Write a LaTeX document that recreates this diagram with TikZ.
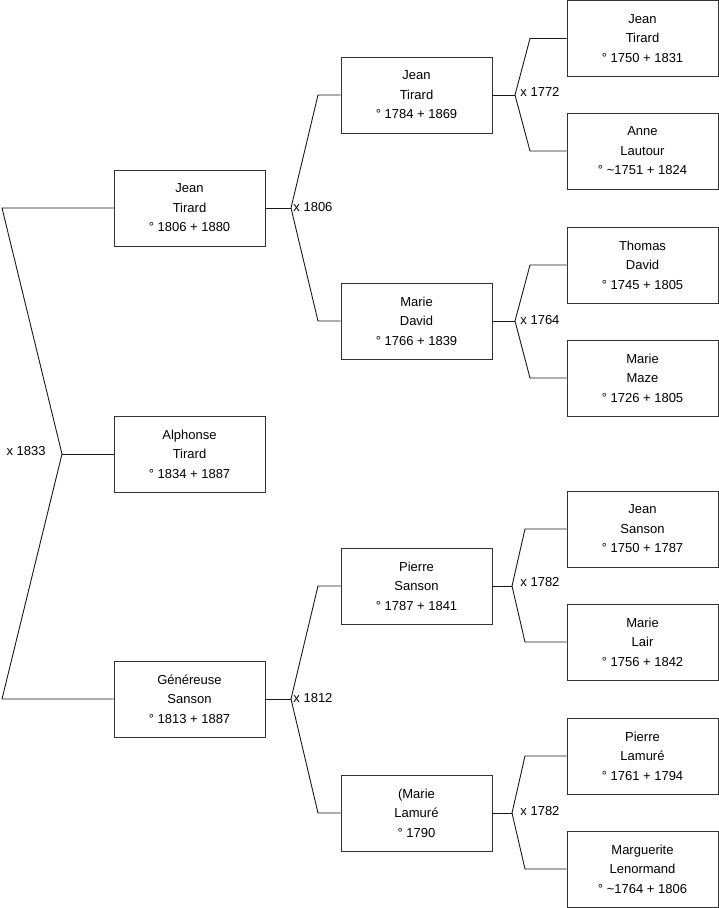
\documentclass[tikz,border=0pt]{standalone}
\usepackage{fontspec}
\setmainfont{Liberation Sans}
\begin{document}
\begin{tikzpicture}[x=1pt,y=-1pt,line width=0.9pt,
  person/.style={draw=black!80,minimum width=151pt,minimum height=76pt,inner sep=0pt,
    align=center,font=\fontsize{13}{19.5}\selectfont},
  lien/.style={draw=black!90},
  datemar/.style={inner sep=0pt,font=\fontsize{13}{15}\selectfont}]
\useasboundingbox (0,0) rectangle (719,908);
% generation 1
\node[person] (alphonse) at (189.5,454) {Alphonse\\Tirard\\° 1834 + 1887};
% generation 2
\node[person] (jean1) at (189.5,208) {Jean\\Tirard\\° 1806 + 1880};
\node[person] (genereuse) at (189.5,699) {Généreuse\\Sanson\\° 1813 + 1887};
% generation 3
\node[person] (jean2) at (416.5,95) {Jean\\Tirard\\° 1784 + 1869};
\node[person] (mariedavid) at (416.5,321) {Marie\\David\\° 1766 + 1839};
\node[person] (pierresanson) at (416.5,586) {Pierre\\Sanson\\° 1787 + 1841};
\node[person] (marielamure) at (416.5,813) {(Marie\\Lamuré\\° 1790};
% generation 4
\node[person] (jean3) at (642.5,38.5) {Jean\\Tirard\\° 1750 + 1831};
\node[person] (anne) at (642.5,151) {Anne\\Lautour\\° \textasciitilde1751 + 1824};
\node[person] (thomas) at (642.5,265) {Thomas\\David\\° 1745 + 1805};
\node[person] (mariemaze) at (642.5,378) {Marie\\Maze\\° 1726 + 1805};
\node[person] (jeansanson) at (642.5,529) {Jean\\Sanson\\° 1750 + 1787};
\node[person] (marielair) at (642.5,642) {Marie\\Lair\\° 1756 + 1842};
\node[person] (pierrelamure) at (642.5,756) {Pierre\\Lamuré\\° 1761 + 1794};
\node[person] (marguerite) at (642.5,869) {Marguerite\\Lenormand\\° \textasciitilde1764 + 1806};
% branch points
\coordinate (m0) at (62,454);
\coordinate (m0a) at (2,208);
\coordinate (m0b) at (2,699);
\coordinate (m1) at (291,208);
\coordinate (m1a) at (318,95);
\coordinate (m1b) at (318,321);
\coordinate (m2) at (291,699);
\coordinate (m2a) at (318,586);
\coordinate (m2b) at (318,813);
\coordinate (m3) at (515,95);
\coordinate (m3a) at (530,38.5);
\coordinate (m3b) at (530,151);
\coordinate (m4) at (515,321);
\coordinate (m4a) at (530,265);
\coordinate (m4b) at (530,378);
\coordinate (m5) at (512,586);
\coordinate (m5a) at (525,529);
\coordinate (m5b) at (525,642);
\coordinate (m6) at (512,813);
\coordinate (m6a) at (525,756);
\coordinate (m6b) at (525,869);
% connectors
\draw[lien] (alphonse.west) -- (m0);
\draw[lien] (jean1.west) -- (m0a) -- (m0) -- (m0b) -- (genereuse.west);
\draw[lien] (jean1.east) -- (m1);
\draw[lien] (jean2.west) -- (m1a) -- (m1) -- (m1b) -- (mariedavid.west);
\draw[lien] (genereuse.east) -- (m2);
\draw[lien] (pierresanson.west) -- (m2a) -- (m2) -- (m2b) -- (marielamure.west);
\draw[lien] (jean2.east) -- (m3);
\draw[lien] (jean3.west) -- (m3a) -- (m3) -- (m3b) -- (anne.west);
\draw[lien] (mariedavid.east) -- (m4);
\draw[lien] (thomas.west) -- (m4a) -- (m4) -- (m4b) -- (mariemaze.west);
\draw[lien] (pierresanson.east) -- (m5);
\draw[lien] (jeansanson.west) -- (m5a) -- (m5) -- (m5b) -- (marielair.west);
\draw[lien] (marielamure.east) -- (m6);
\draw[lien] (pierrelamure.west) -- (m6a) -- (m6) -- (m6b) -- (marguerite.west);
% marriage dates
\node[datemar,anchor=east] (x0) at (46,451) {x 1833};
\node[datemar,anchor=west] (x1) at (293,207) {x 1806};
\node[datemar,anchor=west] (x2) at (293,698) {x 1812};
\node[datemar,anchor=west] (x3) at (520,92) {x 1772};
\node[datemar,anchor=west] (x4) at (520,320) {x 1764};
\node[datemar,anchor=west] (x5) at (520,582) {x 1782};
\node[datemar,anchor=west] (x6) at (520,811) {x 1782};
\end{tikzpicture}
\end{document}
